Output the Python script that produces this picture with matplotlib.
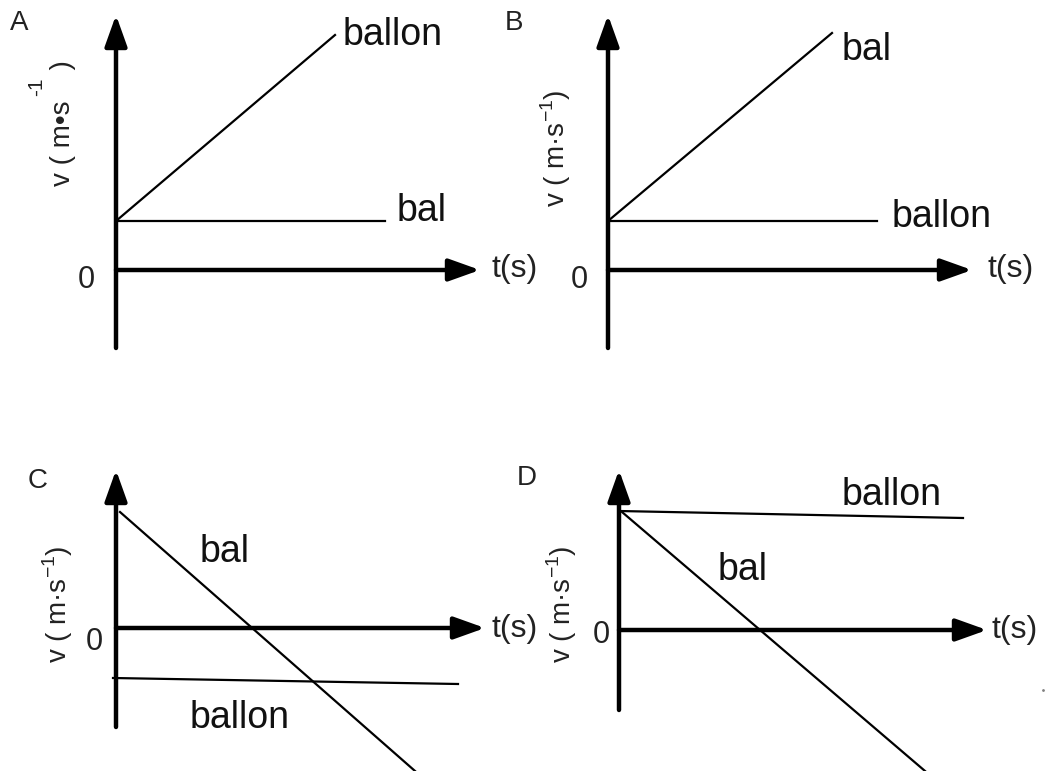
import matplotlib.pyplot as plt
from matplotlib.patches import FancyArrowPatch

plt.rcParams['font.family'] = ['Liberation Sans', 'DejaVu Sans']
plt.rcParams['mathtext.fontset'] = 'custom'
plt.rcParams['mathtext.rm'] = 'Liberation Sans'

# four v-t sketches, values in arbitrary units (t right, v up)
panels = ['A', 'B', 'C', 'D']
ballon_t = [[0, 21.9], [0, 26.9], [-0.3, 34.2], [0, 34.4]]
ballon_v = [[4.9, 23.5], [4.9, 4.9], [-5.0, -5.6], [11.9, 11.2]]
bal_t = [[0, 26.9], [0, 22.4], [0.4, 29.9], [0.3, 30.6]]
bal_v = [[4.9, 4.9], [4.9, 23.7], [11.6, -14.3], [11.8, -14.1]]
v_axis = [[-7.8, 25.5], [-7.8, 25.5], [-9.9, 15.8], [-8.0, 16.0]]
t_axis = [36.4, 36.4, 36.9, 36.8]

# layout: where each origin sits (pixels) and where the texts go
W, H = 1048, 771
PX = 10.0
origins = [(116, 270), (608, 270), (116, 628), (619, 630)]
ballon_lbl = [(22.7, 22.5), (28.4, 4.3), (7.4, -10.0), (22.3, 12.5)]
bal_lbl = [(28.1, 4.9), (23.4, 21.0), (8.4, 6.6), (9.9, 5.0)]
ts_lbl = [(37.6, -0.7), (38.0, -0.7), (37.6, -0.9), (37.3, -0.8)]
zero_lbl = [(-2.1, -1.8), (-2.0, -1.8), (-1.3, -2.2), (-0.9, -1.3)]
letter_lbl = [(-10.6, 24.0), (-10.3, 24.0), (-8.8, 14.0), (-10.2, 14.5)]
ylab_pos = [(-5.3, 14.7), (-5.2, 12.2), (-5.8, 2.4), (-5.7, 2.6)]

fig = plt.figure(figsize=(W / 100, H / 100), dpi=100)


def arrow(ax, p0, p1):
    ax.add_patch(FancyArrowPatch(p0, p1, arrowstyle='-|>,head_length=19,head_width=6.8',
                                 mutation_scale=1, lw=3.2, color='black',
                                 shrinkA=0, shrinkB=0))


for i, name in enumerate(panels):
    ox, oy = origins[i]
    ax = fig.add_axes([0, 0, 1, 1])
    ax.set_xlim(-ox / PX, (W - ox) / PX)
    ax.set_ylim(-(H - oy) / PX, oy / PX)
    ax.axis('off')
    ax.patch.set_alpha(0)

    arrow(ax, (0, v_axis[i][0]), (0, v_axis[i][1]))
    arrow(ax, (0, 0), (t_axis[i], 0))
    ax.plot(ballon_t[i], ballon_v[i], color='black', lw=1.6)
    ax.plot(bal_t[i], bal_v[i], color='black', lw=1.6)

    ax.text(*ballon_lbl[i], 'ballon', fontsize=27, va='baseline', color='#111111')
    ax.text(*bal_lbl[i], 'bal', fontsize=27, va='baseline', color='#111111')
    ax.text(*ts_lbl[i], 't(s)', fontsize=23, va='baseline', color='#222222')
    ax.text(*zero_lbl[i], '0', fontsize=22, va='baseline', ha='right', color='#222222')
    ax.text(*letter_lbl[i], name, fontsize=20, va='baseline', color='#222222')

    if name == 'A':
        ax.text(*ylab_pos[i], 'v ( m•s    )', fontsize=20, rotation=90,
                ha='center', va='center', color='#222222')
        ax.text(-7.9, 18.3, '-1', fontsize=15, rotation=90, ha='center', va='center',
                color='#222222')
    else:
        ax.text(*ylab_pos[i], r'v ( m·s$^{\mathregular{-1}}$)', fontsize=20,
                rotation=90, ha='center', va='center', color='#222222')
    if name == 'D':
        ax.plot(42.4, -6.0, marker='.', ms=2, color='gray')

fig.savefig('out.png', dpi=100)
